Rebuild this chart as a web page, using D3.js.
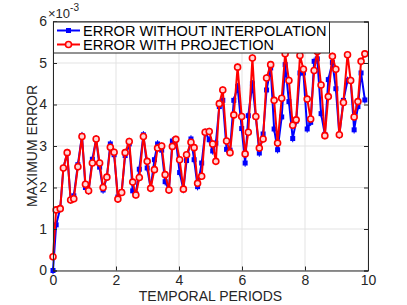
<!DOCTYPE html>
<html>
<head>
<meta charset="utf-8">
<script src="https://cdn.jsdelivr.net/npm/d3@7"></script>
<style>
  body { margin: 0; background: #fff; }
  text { font-family: "Liberation Sans", Arial, sans-serif; }
</style>
</head>
<body>
<div id="chart"></div>
<script>
// data (values in units of 1e-3)
const periods = [0.00, 0.10, 0.23, 0.33, 0.45, 0.56, 0.66, 0.79, 0.92, 1.03,
    1.13, 1.25, 1.37, 1.48, 1.59, 1.71, 1.82, 1.94, 2.06, 2.18,
    2.29, 2.42, 2.53, 2.63, 2.74, 2.87, 2.99, 3.10, 3.22, 3.32,
    3.45, 3.56, 3.68, 3.79, 3.90, 4.02, 4.14, 4.24, 4.38, 4.48,
    4.59, 4.72, 4.83, 4.96, 5.07, 5.17, 5.28, 5.39, 5.51, 5.62,
    5.74, 5.86, 5.99, 6.10, 6.20, 6.33, 6.44, 6.55, 6.67, 6.78,
    6.91, 7.02, 7.13, 7.26, 7.37, 7.49, 7.61, 7.72, 7.84, 7.95,
    8.07, 8.18, 8.29, 8.39, 8.51, 8.63, 8.74, 8.87, 8.98, 9.09,
    9.22, 9.35, 9.45, 9.56, 9.68, 9.78, 9.90];

const errorNoInterp = [0.00, 1.10, 1.50, 2.47, 2.84, 1.70, 1.80, 2.55, 3.25, 2.00,
    1.92, 2.68, 3.17, 2.49, 1.94, 2.25, 3.05, 2.79, 1.77, 1.90,
    2.77, 3.05, 1.92, 1.85, 2.44, 3.27, 2.47, 1.98, 2.67, 3.05,
    2.90, 2.14, 1.94, 3.12, 3.15, 2.36, 1.95, 2.65, 3.17, 2.67,
    2.02, 2.59, 3.33, 3.15, 2.88, 3.07, 3.95, 4.10, 2.92, 2.90,
    4.10, 4.43, 3.42, 2.59, 3.73, 4.50, 3.70, 2.83, 3.29, 4.35,
    4.88, 3.41, 2.91, 3.70, 4.96, 4.07, 3.18, 3.60, 4.76, 4.76,
    3.41, 3.57, 5.04, 5.10, 3.78, 3.28, 4.60, 5.01, 4.38, 3.27,
    4.10, 4.58, 4.58, 3.39, 3.95, 4.76, 4.11];

const errorProjection = [0.33, 1.46, 1.49, 2.47, 2.84, 1.70, 1.73, 2.50, 3.23, 2.08,
    1.92, 2.59, 3.17, 2.59, 2.00, 2.25, 2.97, 2.85, 1.72, 1.88,
    2.84, 3.11, 2.13, 1.82, 2.24, 3.23, 2.63, 1.98, 2.43, 2.95,
    3.00, 2.31, 1.94, 2.99, 3.16, 2.67, 1.96, 2.79, 3.09, 2.96,
    2.10, 2.27, 3.33, 3.35, 3.05, 2.63, 4.02, 4.35, 3.12, 2.84,
    3.75, 4.90, 3.71, 2.81, 3.33, 5.12, 3.71, 2.95, 3.17, 4.64,
    4.96, 4.10, 3.07, 4.15, 5.22, 4.58, 3.50, 3.63, 5.18, 4.85,
    4.13, 3.65, 4.82, 5.28, 4.47, 3.25, 4.19, 5.16, 4.85, 3.27,
    4.05, 5.20, 4.58, 3.70, 4.07, 5.04, 5.22];

const seriesNames = ["ERROR WITHOUT INTERPOLATION", "ERROR WITH PROJECTION"];
const xTicks = [0, 2, 4, 6, 8, 10];
const yTicks = [0, 1, 2, 3, 4, 5, 6];
const errHalf = 0.09; // half length of the small error bars

const W = 407, H = 305;
const margin = { top: 21.5, right: 39, bottom: 34.5, left: 53 };
const width = W - margin.left - margin.right;
const height = H - margin.top - margin.bottom;

const svg = d3.select("#chart").append("svg")
    .attr("width", W)
    .attr("height", H);

const g = svg.append("g")
    .attr("transform", `translate(${margin.left},${margin.top})`);

const x = d3.scaleLinear().domain([0, 10]).range([0, width]);
const y = d3.scaleLinear().domain([0, 6]).range([height, 0]);

// grid
g.append("g").selectAll("line")
    .data(xTicks)
    .enter().append("line")
    .attr("x1", d => x(d)).attr("x2", d => x(d))
    .attr("y1", 0).attr("y2", height)
    .attr("stroke", "#e3e3e3");

g.append("g").selectAll("line")
    .data(yTicks)
    .enter().append("line")
    .attr("x1", 0).attr("x2", width)
    .attr("y1", d => y(d)).attr("y2", d => y(d))
    .attr("stroke", "#e3e3e3");

const data = periods.map((p, i) => ({
    p, a: errorNoInterp[i], b: errorProjection[i]
}));

function drawSeries(key, color, marker) {
    const s = g.append("g");
    s.append("path")
        .datum(data)
        .attr("fill", "none")
        .attr("stroke", color)
        .attr("stroke-width", 2)
        .attr("stroke-linejoin", "round")
        .attr("d", d3.line().x(d => x(d.p)).y(d => y(d[key])));

    // error bars
    s.selectAll("line.err")
        .data(data)
        .enter().append("line")
        .attr("class", "err")
        .attr("x1", d => x(d.p)).attr("x2", d => x(d.p))
        .attr("y1", d => y(d[key] - errHalf))
        .attr("y2", d => y(d[key] + errHalf))
        .attr("stroke", color)
        .attr("stroke-width", 1);

    if (marker === "square") {
        s.selectAll("rect")
            .data(data)
            .enter().append("rect")
            .attr("x", d => x(d.p) - 2.5)
            .attr("y", d => y(d[key]) - 2.5)
            .attr("width", 5).attr("height", 5)
            .attr("fill", color);
    } else {
        s.selectAll("circle")
            .data(data)
            .enter().append("circle")
            .attr("cx", d => x(d.p))
            .attr("cy", d => y(d[key]))
            .attr("r", 3)
            .attr("fill", "#ffd6d6")
            .attr("stroke", color)
            .attr("stroke-width", 1.6);
    }
}

drawSeries("a", "#0000ff", "square");
drawSeries("b", "#ff0000", "circle");

// axes (ticks inside, MATLAB box)
const axisColor = "#262626";

const xAxis = g.append("g")
    .attr("transform", `translate(0,${height})`)
    .call(d3.axisBottom(x).tickValues(xTicks).tickSize(-4).tickPadding(5).tickFormat(d3.format("d")));

const yAxis = g.append("g")
    .call(d3.axisLeft(y).tickValues(yTicks).tickSize(-4).tickPadding(6).tickFormat(d3.format("d")));

const xTop = g.append("g")
    .call(d3.axisTop(x).tickValues(xTicks).tickSize(-4).tickFormat(""));

const yRight = g.append("g")
    .attr("transform", `translate(${width},0)`)
    .call(d3.axisRight(y).tickValues(yTicks).tickSize(-4).tickFormat(""));

[xAxis, yAxis, xTop, yRight].forEach(a => {
    a.select(".domain").attr("stroke", axisColor).attr("stroke-width", 1);
    a.selectAll(".tick line").attr("stroke", axisColor);
    a.selectAll("text")
        .attr("fill", axisColor)
        .style("font-size", "14px")
        .style("font-family", "'Liberation Sans', Arial, sans-serif");
});

// exponent label
const expo = svg.append("text")
    .attr("x", 48)
    .attr("y", 18)
    .attr("fill", axisColor)
    .style("font-size", "13px");
expo.append("tspan").text("\u00d710");
expo.append("tspan").attr("dy", -7).style("font-size", "10px").text("-3");

// axis titles
svg.append("text")
    .attr("x", margin.left + width / 2)
    .attr("y", 301)
    .attr("text-anchor", "middle")
    .attr("fill", axisColor)
    .style("font-size", "14px")
    .text("TEMPORAL PERIODS");

svg.append("text")
    .attr("transform", `translate(36.5,${margin.top + height / 2}) rotate(-90)`)
    .attr("text-anchor", "middle")
    .attr("fill", axisColor)
    .style("font-size", "14px")
    .text("MAXIMUM ERROR");

// legend
const legend = svg.append("g")
    .attr("transform", `translate(${margin.left},${margin.top})`);

legend.append("rect")
    .attr("x", 0.5).attr("y", 0.5)
    .attr("width", 276).attr("height", 31)
    .attr("fill", "#fff")
    .attr("stroke", axisColor)
    .attr("stroke-width", 1);

seriesNames.forEach((name, i) => {
    const ly = 9 + i * 14;
    const color = i === 0 ? "#0000ff" : "#ff0000";
    legend.append("line")
        .attr("x1", 4).attr("x2", 27)
        .attr("y1", ly).attr("y2", ly)
        .attr("stroke", color).attr("stroke-width", 2);
    if (i === 0) {
        legend.append("rect")
            .attr("x", 13).attr("y", ly - 2.5)
            .attr("width", 5).attr("height", 5)
            .attr("fill", color);
    } else {
        legend.append("circle")
            .attr("cx", 15.5).attr("cy", ly)
            .attr("r", 3)
            .attr("fill", "#ffd6d6")
            .attr("stroke", color).attr("stroke-width", 1.6);
    }
    legend.append("text")
        .attr("x", 30)
        .attr("y", ly + 5)
        .attr("fill", "#000")
        .style("font-size", "14.5px")
        .text(name);
});
</script>
</body>
</html>
